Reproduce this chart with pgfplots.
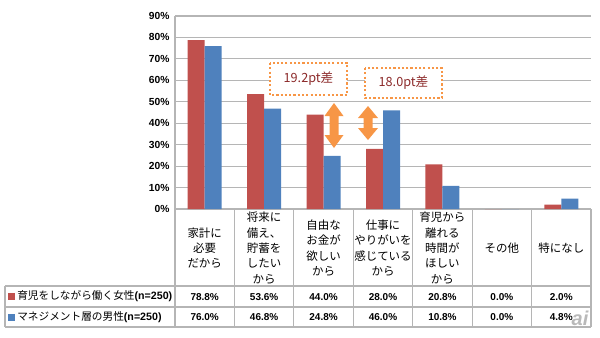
\documentclass[border=0pt]{standalone}
\usepackage{pgfplots}
\pgfplotsset{compat=1.18}
\usepackage{fontspec}
\setmainfont{Liberation Sans}
\newfontfamily\jp{Noto Sans CJK JP}
\definecolor{cred}{HTML}{C0504D}
\definecolor{cblue}{HTML}{4F81BD}
\definecolor{corange}{HTML}{F79646}
\definecolor{cgrid}{HTML}{B5B5B5}
\definecolor{ctext}{HTML}{8C2A2A}
\begin{document}
\begin{tikzpicture}
\useasboundingbox (0,0) rectangle (450pt,-252.75pt);
\begin{axis}[
  at={(131.25pt,-156.75pt)}, anchor=south west,
  scale only axis, width=312pt, height=144.75pt,
  ybar=0pt, bar width=12.75pt,
  xmin=-0.5, xmax=6.5, ymin=0, ymax=90,
  ytick={0,10,...,90}, xtick=\empty,
  yticklabel={\pgfmathprintnumber{\tick}\%},
  yticklabel style={font=\bfseries\fontsize{7.7}{9}\selectfont, /pgf/number format/assume math mode=true, inner sep=0pt, xshift=-4pt, text=black},
  ymajorgrids, grid style={cgrid, line width=0.8pt},
  axis lines=left, axis line style={cgrid, line width=0.8pt, -},
  major tick length=0pt,
  clip=false,
]
\addplot[fill=cred, draw=none] coordinates {(0,78.8)(1,53.6)(2,44.0)(3,28.0)(4,20.8)(5,0)(6,2.0)};
\addplot[fill=cblue, draw=none] coordinates {(0,76.0)(1,46.8)(2,24.8)(3,46.0)(4,10.8)(5,0)(6,4.8)};
\end{axis}
\begin{scope}[x=0.75pt,y=-0.75pt]
  % table lines
  \draw[cgrid, line width=0.8pt] (5,286) -- (591,286) (5,307) -- (591,307) (5,327) -- (591,327) (5,286) -- (5,327);
  \foreach \k in {0,...,7} {
    \pgfmathsetmacro{\xx}{175+\k*59.4286}
    \draw[cgrid, line width=0.8pt] (\xx,209) -- (\xx,327);
  }
  % category labels
  \foreach \i/\t in {0/{家計に\\必要\\だから},1/{将来に\\備え、\\貯蓄を\\したい\\から},2/{自由な\\お金が\\欲しい\\から},3/{仕事に\\やりがいを\\感じている\\から},4/{育児から\\離れる\\時間が\\ほしい\\から},5/{その他},6/{特になし}} {
    \pgfmathsetmacro{\cx}{175+(\i+0.5)*59.4286}
    \node[align=center, inner sep=0pt, font=\jp\fontsize{8.6}{11.5}\selectfont] at (\cx,248) {\t};
  }
  % values
  \foreach \i/\a/\b in {0/78.8/76.0,1/53.6/46.8,2/44.0/24.8,3/28.0/46.0,4/20.8/10.8,5/0.0/0.0,6/2.0/4.8} {
    \pgfmathsetmacro{\cx}{175+(\i+0.5)*59.4286}
    \node[inner sep=0pt, font=\bfseries\fontsize{7.5}{9}\selectfont] at (\cx,297) {\a\%};
    \node[inner sep=0pt, font=\bfseries\fontsize{7.5}{9}\selectfont] at (\cx,317.5) {\b\%};
  }
  % legend column
  \fill[cred] (8,293) rectangle (15,300);
  \fill[cblue] (8,313.5) rectangle (15,320.5);
  \node[anchor=west, inner sep=0pt, font=\fontsize{8}{9}\selectfont] at (17,296.5) {{\jp 育児をしながら働く女性}\textbf{(n=250)}};
  \node[anchor=west, inner sep=0pt, font=\fontsize{8}{9}\selectfont] at (17,317) {{\jp マネジメント層の男性}\textbf{(n=250)}};
  % annotation boxes
  \draw[corange, fill=white, line width=1.6pt, dash pattern=on 1.6pt off 1.6pt] (270,63) rectangle (347,95);
  \node[text=ctext, font=\jp\fontsize{9.5}{11}\selectfont] at (308.5,79) {19.2pt差};
  \draw[corange, fill=white, line width=1.6pt, dash pattern=on 1.6pt off 1.6pt] (365,68) rectangle (442,98);
  \node[text=ctext, font=\jp\fontsize{9.5}{11}\selectfont] at (403.5,83) {18.0pt差};
  % arrows
  \fill[corange] (334,103) -- (343.5,116) -- (338.5,116) -- (338.5,135) -- (343.5,135) -- (334,148) -- (324.5,135) -- (329.5,135) -- (329.5,116) -- (324.5,116) -- cycle;
  \fill[corange] (368,106) -- (378,118) -- (372.5,118) -- (372.5,128) -- (378,128) -- (368,140) -- (358,128) -- (363.5,128) -- (363.5,118) -- (358,118) -- cycle;
  % watermark
  \node[text=gray!55, font=\bfseries\itshape\fontsize{15}{15}\selectfont] at (580,318) {ai};
\end{scope}
\end{tikzpicture}
\end{document}
